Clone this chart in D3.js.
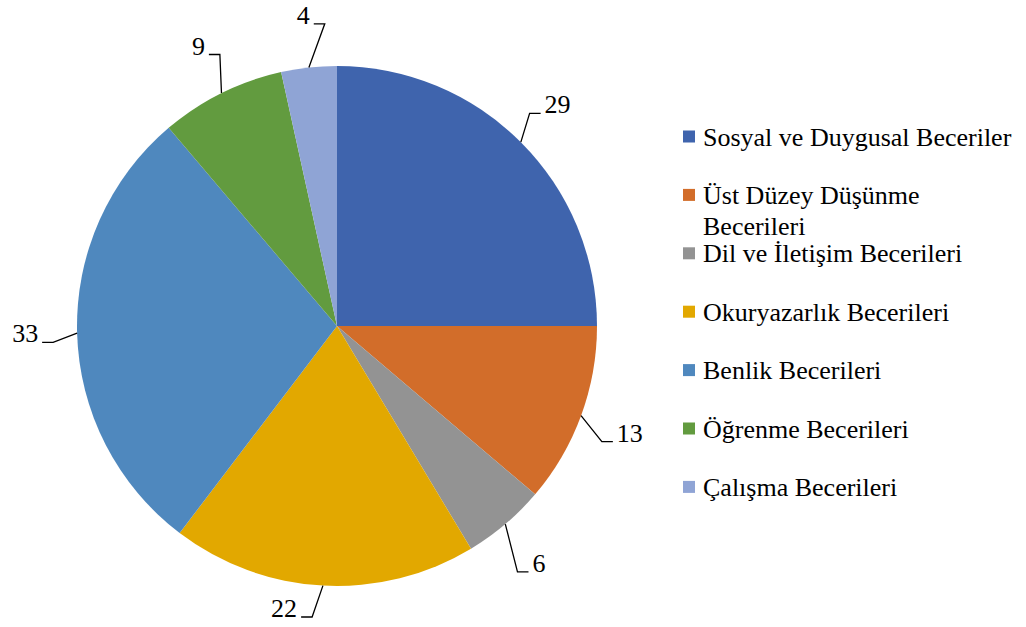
<!DOCTYPE html>
<html>
<head>
<meta charset="utf-8">
<script src="https://cdn.jsdelivr.net/npm/d3@7"></script>
</head>
<body style="margin:0">
<svg id="chart" width="1026" height="627"></svg>
<script>
// --- Data ---
const categories = [
  "Sosyal ve Duygusal Beceriler",
  "Üst Düzey Düşünme Becerileri",
  "Dil ve İletişim Becerileri",
  "Okuryazarlık Becerileri",
  "Benlik Becerileri",
  "Öğrenme Becerileri",
  "Çalışma Becerileri"
];
const values = [29, 13, 6, 22, 33, 9, 4];
const colors = ["#3F64AD", "#D26D2A", "#939393", "#E2A800", "#4F88BE", "#629B3F", "#8FA4D5"];

// --- Setup ---
const width = 1026, height = 627;
const cx = 337, cy = 326, radius = 260;
const fontSize = 26;
const serif = "Liberation Serif";

// rough serif advance widths (in em), so no DOM text measuring is needed
function textWidth(s) {
  let w = 0;
  for (const ch of s) {
    if (ch === " ") w += 0.25;
    else if ("iljıtfr".includes(ch)) w += 0.3;
    else if ("mwM".includes(ch)) w += 0.75;
    else if (ch >= "0" && ch <= "9") w += 0.5;
    else if (ch !== ch.toLowerCase()) w += 0.68;
    else w += 0.46;
  }
  return w * fontSize;
}

const svg = d3.select("#chart").attr("font-family", serif);

const pie = d3.pie().sort(null).value(d => d);
const arcs = pie(values);
const arc = d3.arc().innerRadius(0).outerRadius(radius);

const g = svg.append("g").attr("transform", `translate(${cx},${cy})`);

g.selectAll("path.slice")
  .data(arcs)
  .enter().append("path")
  .attr("class", "slice")
  .attr("d", arc)
  .attr("fill", (d, i) => colors[i]);

// --- Data labels with leader lines ---
const labelR = radius + 52;
const tail = 11, gap = 4;
// keep labels inside the picture
const minY = -cy + 15, maxY = height - cy - 18;

arcs.forEach((d, i) => {
  const mid = (d.startAngle + d.endAngle) / 2;
  const p0 = [radius * Math.sin(mid), -radius * Math.cos(mid)];
  const c = [labelR * Math.sin(mid), -labelR * Math.cos(mid)];
  const right = Math.sin(mid) >= 0;
  const dir = right ? 1 : -1;

  if (c[1] > maxY || c[1] < minY) {
    c[1] = Math.max(minY, Math.min(maxY, c[1]));
    c[0] += dir * 36; // push sideways when squeezed against the edge
  }

  const label = String(values[i]);
  const w = textWidth(label);

  g.append("text")
    .attr("font-family", serif)
    .attr("font-size", fontSize)
    .attr("text-anchor", "middle")
    .attr("x", c[0])
    .attr("y", c[1] + 8)
    .text(label);

  // attach leader to the side of the label facing the pie
  const ex = c[0] - dir * (w / 2 + gap);
  const ey = c[1] + 8;
  const p2 = [ex, ey];
  const p1 = [ex - dir * tail, ey];

  g.append("path")
    .attr("d", d3.line()([p0, p1, p2]))
    .attr("fill", "none")
    .attr("stroke", "#000")
    .attr("stroke-width", 1.3);
});

// --- Legend ---
const legendX = 683, legendTop = 136.5, legendStep = 58.4, sw = 12;
const textX = legendX + 20;
const maxW = width - textX - 4;

const legend = svg.append("g");
categories.forEach((name, i) => {
  const y = legendTop + i * legendStep;
  legend.append("rect")
    .attr("x", legendX)
    .attr("y", y - sw / 2)
    .attr("width", sw)
    .attr("height", sw)
    .attr("fill", colors[i]);

  // word wrap on estimated widths
  const lines = [];
  let line = [];
  name.split(" ").forEach(w => {
    const test = line.concat(w).join(" ");
    if (line.length && textWidth(test) > maxW) {
      lines.push(line.join(" "));
      line = [w];
    } else {
      line.push(w);
    }
  });
  lines.push(line.join(" "));

  const t = legend.append("text")
    .attr("font-family", serif)
    .attr("font-size", fontSize)
    .attr("x", textX)
    .attr("y", y + 9);

  lines.forEach((l, k) => {
    t.append("tspan")
      .attr("x", textX)
      .attr("dy", k === 0 ? 0 : 31)
      .text(l);
  });
});
</script>
</body>
</html>
